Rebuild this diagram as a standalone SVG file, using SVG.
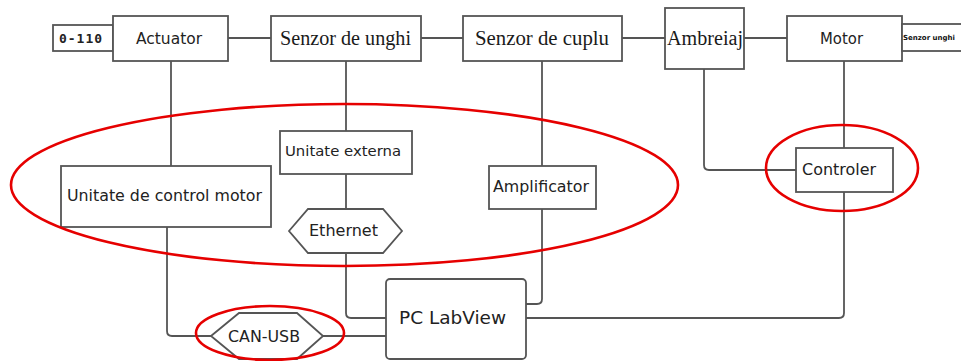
<svg xmlns="http://www.w3.org/2000/svg" width="961" height="361" viewBox="0 0 961 361">
  <style>
    .box { fill: #ffffff; stroke: #555555; stroke-width: 1.8; }
    .wire { fill: none; stroke: #555555; stroke-width: 1.8; stroke-linejoin: round; }
    .mark { fill: none; stroke: #e60000; stroke-width: 2.6; }
    .sans { font-family: "DejaVu Sans", "Liberation Sans", sans-serif; fill: #222222; text-anchor: middle; }
    .serif { font-family: "Liberation Serif", "DejaVu Serif", serif; fill: #1a1a1a; text-anchor: middle; font-size: 20px; }
  </style>

  <rect x="0" y="0" width="961" height="361" fill="#ffffff"/>

  <!-- connectors -->
  <g id="connectors">
    <line class="wire" x1="228" y1="38" x2="271" y2="38"/>
    <line class="wire" x1="421" y1="38" x2="463" y2="38"/>
    <line class="wire" x1="622" y1="38" x2="665" y2="38"/>
    <line class="wire" x1="744" y1="38" x2="787" y2="38"/>
    <line class="wire" x1="171" y1="61" x2="171" y2="166"/>
    <line class="wire" x1="346" y1="61" x2="346" y2="131"/>
    <line class="wire" x1="346" y1="174" x2="346" y2="209"/>
    <line class="wire" x1="542" y1="61" x2="542" y2="166"/>
    <path class="wire" d="M704 69 V165 Q704 170 709 170 H796"/>
    <line class="wire" x1="844" y1="61" x2="844" y2="148"/>
    <path class="wire" d="M167 227 V331 Q167 336 172 336 H211"/>
    <line class="wire" x1="323" y1="336" x2="386" y2="336"/>
    <path class="wire" d="M346 253 V313 Q346 318 351 318 H386"/>
    <path class="wire" d="M542 209 V299 Q542 304 537 304 H526"/>
    <path class="wire" d="M526 318 H839 Q844 318 844 313 V192"/>
  </g>

  <!-- top row -->
  <g id="range">
    <rect class="box" x="53" y="25" width="60" height="26"/>
    <text x="81" y="43" font-family="DejaVu Sans Mono, Liberation Mono, monospace" font-weight="bold" font-size="13" letter-spacing="1" fill="#222" text-anchor="middle">0-110</text>
  </g>
  <g id="actuator">
    <rect class="box" x="113" y="16" width="115" height="45"/>
    <text class="sans" x="169" y="44" font-size="15.5" textLength="66" lengthAdjust="spacingAndGlyphs">Actuator</text>
  </g>
  <g id="senzor-unghi">
    <rect class="box" x="271" y="16" width="150" height="45"/>
    <text class="serif" x="345.5" y="45" textLength="131" lengthAdjust="spacingAndGlyphs">Senzor de unghi</text>
  </g>
  <g id="senzor-cuplu">
    <rect class="box" x="463" y="16" width="159" height="45"/>
    <text class="serif" x="542" y="45" textLength="134" lengthAdjust="spacingAndGlyphs">Senzor de cuplu</text>
  </g>
  <g id="ambreiaj">
    <rect class="box" x="665" y="8" width="79" height="61"/>
    <text class="serif" x="705" y="45" textLength="76" lengthAdjust="spacingAndGlyphs">Ambreiaj</text>
  </g>
  <g id="motor">
    <rect class="box" x="787" y="16" width="115" height="45"/>
    <text class="sans" x="841.5" y="44" font-size="15.5" textLength="43" lengthAdjust="spacingAndGlyphs">Motor</text>
  </g>
  <g id="senzor-unghi-motor">
    <rect class="box" x="902" y="24" width="70" height="27"/>
    <text x="903" y="40" font-family="DejaVu Sans, sans-serif" font-weight="bold" font-size="7" fill="#111">Senzor unghi</text>
  </g>

  <!-- middle row -->
  <g id="unitate-control">
    <rect class="box" x="61" y="166" width="210" height="61"/>
    <text class="sans" x="164.5" y="201" font-size="15.5" textLength="195" lengthAdjust="spacingAndGlyphs">Unitate de control motor</text>
  </g>
  <g id="unitate-externa">
    <rect class="box" x="280" y="131" width="132" height="43"/>
    <text class="sans" x="343" y="156" font-size="14.5" textLength="116" lengthAdjust="spacingAndGlyphs">Unitate externa</text>
  </g>
  <g id="ethernet">
    <polygon class="box" points="289,231 308,209 383,209 402,231 383,253 308,253"/>
    <text class="sans" x="343.5" y="236" font-size="16" textLength="69" lengthAdjust="spacingAndGlyphs">Ethernet</text>
  </g>
  <g id="amplificator">
    <rect class="box" x="489" y="166" width="107" height="43"/>
    <text class="sans" x="541" y="192" font-size="16" textLength="96" lengthAdjust="spacingAndGlyphs">Amplificator</text>
  </g>
  <g id="controler">
    <rect class="box" x="796" y="148" width="97" height="44"/>
    <text class="sans" x="839" y="175" font-size="16" textLength="74" lengthAdjust="spacingAndGlyphs">Controler</text>
  </g>

  <!-- bottom row -->
  <g id="can-usb">
    <polygon class="box" points="211,336 239,313 297,313 323,336 297,359 239,359"/>
    <text class="sans" x="264" y="342" font-size="16" textLength="72" lengthAdjust="spacingAndGlyphs">CAN-USB</text>
  </g>
  <g id="pc-labview">
    <rect class="box" x="386" y="279" width="140" height="80" rx="4"/>
    <text class="sans" x="452.5" y="324" font-size="18.5" textLength="107" lengthAdjust="spacingAndGlyphs">PC LabView</text>
  </g>

  <!-- highlight marks -->
  <g id="highlights">
    <ellipse class="mark" cx="344.5" cy="185" rx="333.5" ry="81"/>
    <ellipse class="mark" cx="842" cy="168" rx="76" ry="43"/>
    <ellipse class="mark" cx="270" cy="333" rx="74" ry="27"/>
  </g>
</svg>
